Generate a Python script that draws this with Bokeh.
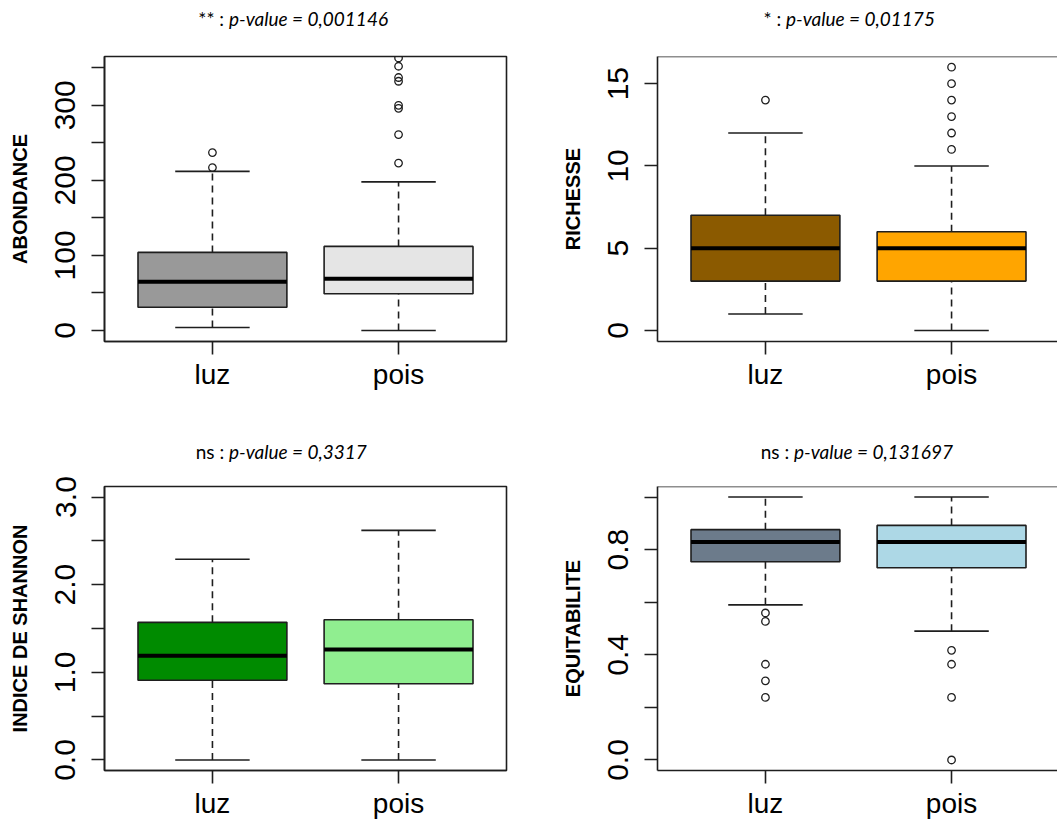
from bokeh.plotting import figure
from bokeh.layouts import column, row
from bokeh.models import FixedTicker, Span, PrintfTickFormatter, Div
from bokeh.embed import file_html
from bokeh.resources import INLINE

# ---------------- data ----------------
groups = ["luz", "pois"]
group_pos = [1, 2]

# ABONDANCE
abondance_low = [4, 0]
abondance_q1 = [31, 49]
abondance_med = [65, 69]
abondance_q3 = [104, 112]
abondance_high = [212, 198]
abondance_out_luz = [217, 237]
abondance_out_pois = [223, 261, 296, 300, 332, 337, 352, 363]

# RICHESSE
richesse_low = [1, 0]
richesse_q1 = [3, 3]
richesse_med = [5, 5]
richesse_q3 = [7, 6]
richesse_high = [12, 10]
richesse_out_luz = [14]
richesse_out_pois = [11, 12, 13, 14, 15, 16]

# INDICE DE SHANNON
shannon_low = [0.0, 0.0]
shannon_q1 = [0.91, 0.87]
shannon_med = [1.19, 1.26]
shannon_q3 = [1.57, 1.60]
shannon_high = [2.29, 2.62]
shannon_out_luz = []
shannon_out_pois = []

# EQUITABILITE
equit_low = [0.59, 0.49]
equit_q1 = [0.754, 0.731]
equit_med = [0.829, 0.829]
equit_q3 = [0.876, 0.892]
equit_high = [1.0, 1.0]
equit_out_luz = [0.238, 0.301, 0.364, 0.527, 0.559]
equit_out_pois = [0.0, 0.238, 0.364, 0.417]

title_prefix = ["** : ", "* : ", "ns : ", "ns : "]
title_pvalue = ["p-value = 0,001146", "p-value = 0,01175", "p-value = 0,3317", "p-value = 0,131697"]
y_labels = ["ABONDANCE", "RICHESSE", "INDICE DE SHANNON", "EQUITABILITE"]

abondance_ticks = [0, 100, 200, 300]
abondance_minor = [50, 150, 250, 350]
richesse_ticks = [0, 5, 10, 15]
shannon_ticks = [0.0, 1.0, 2.0, 3.0]
shannon_minor = [0.5, 1.5, 2.5]
equit_ticks = [0.0, 0.4, 0.8]
equit_minor = [0.2, 0.6, 1.0]

colors_abondance = ["#999999", "#E5E5E5"]
colors_richesse = ["#8B5A00", "#FFA500"]
colors_shannon = ["#008B00", "#90EE90"]
colors_equit = ["#6C7B8B", "#ADD8E6"]

INK = "#1e1e1e"
LW = 1.6
X0, XSPAN = 0.42, 2.16


def title_div(prefix, pval, w, h, split, baseline):
    fs = 19
    top = baseline - 0.987 * fs + (1.2 * fs - fs) / 2
    html = (
        f'<div style="position:relative;width:{w}px;height:{h}px;'
        f'font-family:Lato;font-size:{fs}px;line-height:{fs}px;color:black;">'
        f'<span style="position:absolute;right:{w - split}px;top:{top:.1f}px;'
        f'white-space:pre;">{prefix}</span>'
        f'<span style="position:absolute;left:{split}px;top:{top:.1f}px;'
        f'white-space:pre;font-style:italic;">{pval}</span></div>'
    )
    return Div(text=html, width=w, height=h, margin=0)


def make_panel(low, q1, med, q3, high, out_luz, out_pois, colors, ylab,
               ticks, minor, fmt, yr, *, width, height,
               left, right, top, bottom, closed_right):
    fw = width - left - right
    x_end = X0 + XSPAN * fw / 402.0
    p = figure(width=width, height=height, output_backend="svg",
               toolbar_location=None, x_range=(X0, x_end), y_range=yr,
               min_border_left=left, min_border_right=right,
               min_border_top=top, min_border_bottom=bottom, margin=0)
    p.grid.visible = False
    p.background_fill_color = "white"
    p.border_fill_color = "white"
    if closed_right:
        p.outline_line_color = INK
        p.outline_line_width = LW
        p.outline_line_alpha = 1
    else:
        p.outline_line_color = None
        p.add_layout(Span(location=yr[1], dimension="width",
                          line_color=INK, line_width=LW))

    # whiskers (dashed)
    p.segment(x0=group_pos, y0=q3, x1=group_pos, y1=high,
              line_color=INK, line_width=LW, line_dash="7 5")
    p.segment(x0=group_pos, y0=low, x1=group_pos, y1=q1,
              line_color=INK, line_width=LW, line_dash="7 5")
    # staples
    p.segment(x0=[g - 0.2 for g in group_pos], y0=high,
              x1=[g + 0.2 for g in group_pos], y1=high,
              line_color=INK, line_width=LW)
    p.segment(x0=[g - 0.2 for g in group_pos], y0=low,
              x1=[g + 0.2 for g in group_pos], y1=low,
              line_color=INK, line_width=LW)
    # boxes
    p.vbar(x=group_pos, width=0.8, bottom=q1, top=q3, fill_color=colors,
           line_color=INK, line_width=LW)
    # medians
    p.segment(x0=[g - 0.4 for g in group_pos], y0=med,
              x1=[g + 0.4 for g in group_pos], y1=med,
              line_color="black", line_width=4)
    # outliers
    for g, outs in zip(group_pos, [out_luz, out_pois]):
        if outs:
            p.scatter(x=[g] * len(outs), y=outs, marker="circle", size=7.5,
                      fill_color=None, line_color=INK, line_width=1.3)

    # axes
    xa = p.xaxis[0]
    xa.ticker = FixedTicker(ticks=group_pos)
    xa.major_label_overrides = {g: n for g, n in zip(group_pos, groups)}
    xa.major_label_text_font = "Liberation Sans"
    xa.major_label_text_font_size = "28px"
    xa.major_label_text_color = "black"
    xa.major_tick_out = 13
    xa.major_tick_in = 0
    xa.minor_tick_line_color = None
    xa.major_label_standoff = 4
    xa.axis_line_color = INK
    xa.axis_line_width = LW
    xa.major_tick_line_color = INK
    xa.major_tick_line_width = LW

    ya = p.yaxis[0]
    ya.ticker = FixedTicker(ticks=ticks, minor_ticks=minor)
    if fmt:
        ya.formatter = PrintfTickFormatter(format=fmt)
    ya.major_label_orientation = "vertical"
    ya.major_label_text_font = "Liberation Sans"
    ya.major_label_text_font_size = "30px"
    ya.major_label_text_color = "black"
    ya.major_tick_out = 13
    ya.major_tick_in = 0
    ya.minor_tick_out = 13
    ya.minor_tick_in = 0
    ya.major_label_standoff = 16
    ya.axis_line_color = INK
    ya.axis_line_width = LW
    ya.major_tick_line_color = INK
    ya.major_tick_line_width = LW
    ya.minor_tick_line_color = INK
    ya.minor_tick_line_width = LW
    ya.axis_label = ylab
    ya.axis_label_text_font = "Liberation Sans"
    ya.axis_label_text_font_style = "bold"
    ya.axis_label_text_font_size = "20px"
    ya.axis_label_text_color = "black"
    ya.axis_label_standoff = 22
    return p


p1 = make_panel(abondance_low, abondance_q1, abondance_med, abondance_q3,
                abondance_high, abondance_out_luz, abondance_out_pois,
                colors_abondance, y_labels[0], abondance_ticks,
                abondance_minor, None, (-14.7, 365),
                width=530, height=380, left=104, right=24,
                top=16, bottom=79, closed_right=True)
p2 = make_panel(richesse_low, richesse_q1, richesse_med, richesse_q3,
                richesse_high, richesse_out_luz, richesse_out_pois,
                colors_richesse, y_labels[1], richesse_ticks, [], None,
                (-0.67, 16.65),
                width=527, height=380, left=127, right=0, top=16, bottom=79,
                closed_right=False)
p3 = make_panel(shannon_low, shannon_q1, shannon_med, shannon_q3,
                shannon_high, shannon_out_luz, shannon_out_pois,
                colors_shannon, y_labels[2], shannon_ticks, shannon_minor,
                "%.1f", (-0.12, 3.12),
                width=530, height=351, left=104, right=24, top=16, bottom=50,
                closed_right=True)
p4 = make_panel(equit_low, equit_q1, equit_med, equit_q3, equit_high,
                equit_out_luz, equit_out_pois, colors_equit, y_labels[3],
                equit_ticks, equit_minor, "%.1f", (-0.04, 1.04),
                width=527, height=351, left=127, right=0, top=16, bottom=50,
                closed_right=False)

d1 = title_div(title_prefix[0], title_pvalue[0], 530, 40, 229, 25.5)
d2 = title_div(title_prefix[1], title_pvalue[1], 527, 40, 256, 25.5)
d3 = title_div(title_prefix[2], title_pvalue[2], 530, 50, 229, 38.5)
d4 = title_div(title_prefix[3], title_pvalue[3], 527, 50, 264, 38.5)

layout = column(
    row(d1, d2, spacing=0),
    row(p1, p2, spacing=0),
    row(d3, d4, spacing=0),
    row(p3, p4, spacing=0),
    spacing=0,
)
open("out.html", "w").write(file_html(layout, INLINE))
